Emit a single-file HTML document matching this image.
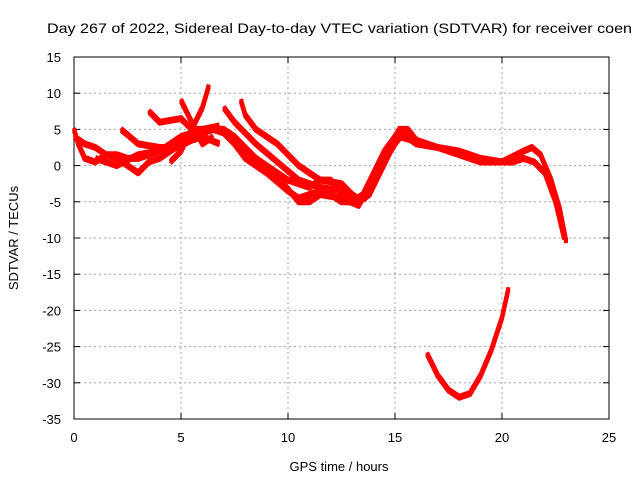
<!DOCTYPE html>
<html><head><meta charset="utf-8"><style>
body{margin:0;background:#fff}
svg{display:block;font-family:"Liberation Sans",sans-serif;font-size:13px}
</style></head><body>
<svg id="chart" width="640" height="480">
<text x="47" y="33" font-size="14" textLength="585" lengthAdjust="spacingAndGlyphs">Day 267 of 2022, Sidereal Day-to-day VTEC variation (SDTVAR) for receiver coen</text>
<text x="339" y="471" text-anchor="middle">GPS time / hours</text>
<text transform="translate(18,238) rotate(-90)" text-anchor="middle">SDTVAR / TECUs</text>
<g id="grid"></g><g id="axes"></g><g id="series"></g>
</svg>
<script>
const xTicks=[0,5,10,15,20,25];
const yTicks=[15,10,5,0,-5,-10,-15,-20,-25,-30,-35];
const seriesA=[[0,5],[0.2,3],[0.5,1],[1,0.5],[1.5,1.5],[2,1],[2.5,0],[3,-1],[3.5,0.5],[4,1],[4.5,2],[5,3],[5.5,4],[6,4.5],[6.5,5],[7,4.5],[7.5,3],[8,1],[9,-1],[10,-3.5],[10.5,-4.5],[11,-4],[11.5,-3.5],[12,-4],[12.5,-5],[13,-5],[13.5,-4],[14,-1],[14.5,2],[15,4],[15.5,4],[16,3],[17,2.5],[18,1.5],[19,0.5],[20,0.5],[20.5,0.5],[21,1],[21.5,0.5],[22,-1],[22.5,-5],[22.9,-10]];
const seriesB=[[0,4],[0.5,3],[1,2.5],[1.5,1.5],[2,1.5],[2.5,1],[3,1],[4,2],[5,4],[6,5],[7,5],[7.5,4],[8.5,1],[9.5,-1.5],[10.5,-5],[11,-5],[11.5,-4],[12.5,-4.5],[13.3,-5.5],[13.8,-3],[14.3,0],[14.8,3],[15.2,5],[15.6,5],[16,3.5],[17,2.5],[18,2],[19,1],[20,0.5],[21,2],[21.4,2.5],[21.8,1.5],[22.3,-2],[22.7,-6],[23,-10.5]];
const seriesC=[[2.2,5],[3,3],[4,2.5],[4.8,2.5],[5.5,3.5],[6,4],[6.8,3]];
const seriesD=[[3.5,7.5],[4,6],[5,6.5],[5.5,5],[6,5],[7,5],[8,2],[9,0],[10,-2],[11,-3],[11.5,-2],[12,-2],[12.5,-4],[13,-5]];
const seriesE=[[4.5,0.5],[5,2],[5.5,5],[6,8],[6.3,11]];
const seriesF=[[5,9],[5.5,6],[6,3],[6.5,4]];
const seriesG=[[7.8,9],[8,7],[8.5,5],[9.5,3],[10.5,0],[11.5,-2],[12.5,-2.5],[13,-4],[13.5,-5]];
const seriesH=[[7,8],[7.5,6],[8.5,3],[9.5,0.5],[10.5,-2],[11.5,-3],[12.5,-3.5],[13.3,-5],[13.8,-4],[14.3,-1],[14.8,2],[15.2,4],[15.8,3.5]];
const seriesI=[[1,1],[2,0],[3,1.5],[4,2],[5,3.5],[6,5],[6.8,5.5]];
const seriesJ=[[16.5,-26],[17,-29],[17.5,-31],[18,-32],[18.5,-31.5],[19,-29],[19.5,-25.5],[20,-21],[20.3,-17]];
const seriesK=[[13,-5],[13.6,-4.5],[14.1,-2],[14.6,1],[15,3],[15.4,4.5],[16,3]];
const allSeries=[seriesA,seriesB,seriesC,seriesD,seriesE,seriesF,seriesG,seriesH,seriesI,seriesJ,seriesK];
const X0=74,X1=609,Y0=57,Y1=419;
const sx=h=>X0+(h-0)/25*(X1-X0);
const sy=v=>Y0+(15-v)/50*(Y1-Y0);
const NS="http://www.w3.org/2000/svg";
const grid=document.getElementById('grid'),axes=document.getElementById('axes'),ser=document.getElementById('series');
function mk(t,a,p){const e=document.createElementNS(NS,t);for(const k in a)e.setAttribute(k,a[k]);p.appendChild(e);return e;}
xTicks.forEach(t=>{const x=sx(t);
 if(t>0&&t<25){const g=mk('line',{x1:x,x2:x,y1:Y0,y2:Y1,stroke:'#a0a0a0','stroke-dasharray':'2,3'},grid);
 
 }
 mk('line',{x1:x,x2:x,y1:Y1,y2:Y1-6,stroke:'#000'},axes);mk('line',{x1:x,x2:x,y1:Y0,y2:Y0+6,stroke:'#000'},axes);
 const l=mk('text',{x:x,y:Y1+23,'text-anchor':'middle'},axes);l.textContent=t;
 
 });
yTicks.forEach(t=>{const y=sy(t);
 if(t<15&&t>-35){const g=mk('line',{x1:X0,x2:X1,y1:y,y2:y,stroke:'#a0a0a0','stroke-dasharray':'2,3'},grid);
 
 }
 mk('line',{x1:X0,x2:X0+6,y1:y,y2:y,stroke:'#000'},axes);mk('line',{x1:X1,x2:X1-6,y1:y,y2:y,stroke:'#000'},axes);
 const l=mk('text',{x:X0-13,y:y+5,'text-anchor':'end'},axes);l.textContent=t;
 
 });
const fr=mk('rect',{x:X0,y:Y0,width:X1-X0,height:Y1-Y0,fill:'none',stroke:'#000'},axes);


allSeries.forEach((s,i)=>{
 [-1.5,0,1.5].forEach(off=>{
 const p=mk('polyline',{points:s.map(d=>sx(d[0])+','+(sy(d[1])+off)).join(' '),fill:'none',stroke:'#ff0000','stroke-width':4,'stroke-linejoin':'round'},ser);
 
 });
});
</script>
</body></html>
